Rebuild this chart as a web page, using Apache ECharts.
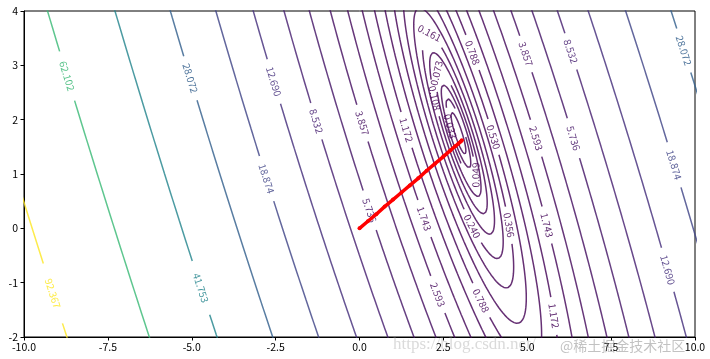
<!DOCTYPE html>
<html><head><meta charset="utf-8">
<script src="https://cdn.jsdelivr.net/npm/echarts@6/dist/echarts.min.js"></script>
<style>html,body{margin:0;padding:0;background:#fff}#c{width:710px;height:359px}</style>
</head><body><div id="c"></div>
<script>
// ---- data ----
const xTicks = [-10, -7.5, -5, -2.5, 0, 2.5, 5, 7.5, 10];
const yTicks = [-2, -1, 0, 1, 2, 3, 4];
const levels = [0.022122, 0.032903, 0.048939, 0.072790, 0.10826, 0.16103, 0.239503, 0.35622, 0.52983, 0.78805,
  1.17210, 1.74333, 2.59294, 3.85662, 5.73615, 8.53168, 12.6896, 18.8739, 28.0722, 41.7532, 62.1017, 92.3671];
// quadratic surface: f = A*u^2 + B*u*v + C*v^2 + F0, u=x-X0, v=y-Y0
const surfA = 0.5, surfB = 0.5, surfC = 0.167, surfX0 = 2.95, surfY0 = 1.75, surfF0 = 0.016;
// contour label spots: [level, approx x, approx y]
const labelLevel = [92.3671, 62.1017, 41.7532, 28.0722, 28.0722, 18.8739, 18.8739, 12.6896, 12.6896, 8.53168, 8.53168,
  5.73615, 5.73615, 3.85662, 3.85662, 2.59294, 2.59294, 1.74333, 1.74333, 1.17210, 1.17210, 0.78805, 0.78805,
  0.52983, 0.35622, 0.239503, 0.16103, 0.10826, 0.072790, 0.048939, 0.032903];
const labelX = [-9.18, -8.68, -4.75, -5.0, 9.65, -2.73, 9.45, -2.47, 9.16, -1.23, 6.37,
  0.31, 6.37, 0.11, 4.98, 2.25, 5.28, 1.90, 5.63, 1.41, 5.83, 3.54, 3.39,
  4.04, 4.49, 3.34, 2.10, 2.25, 2.25, 3.49, 2.85];
const labelY = [-1.14, 2.74, -1.08, 2.75, 3.29, 0.89, 1.14, 2.74, -0.80, 1.97, 3.26,
  0.35, 1.66, 1.94, 3.23, -1.23, 1.66, 0.18, 0.06, 1.81, -1.6, -1.35, 3.23,
  1.69, 0.06, 0.03, 3.61, 2.40, 2.86, 0.98, 1.90];
// descent path (red)
const pathX = [0.00, 0.25, 0.50, 0.75, 1.00, 1.25, 1.50, 1.75, 2.00, 2.25, 2.50, 2.70, 2.85, 2.95, 3.02, 3.05];
const pathY = [0.00, 0.13, 0.26, 0.40, 0.53, 0.66, 0.79, 0.92, 1.06, 1.19, 1.32, 1.43, 1.51, 1.56, 1.60, 1.62];

// ---- layout ----
const W = 710, H = 359;
const G = {left: 24, right: 15, top: 11, bottom: 22};
const gx0 = G.left, gx1 = W - G.right, gy0 = G.top, gy1 = H - G.bottom;
const xMin = -10, xMax = 10, yMin = -2, yMax = 4;
const toPx = (x, y) => [gx0 + (x - xMin) / (xMax - xMin) * (gx1 - gx0), gy1 - (y - yMin) / (yMax - yMin) * (gy1 - gy0)];

const VIR = ['#440154','#482475','#414487','#355f8d','#2a788e','#21918c','#22a884','#44bf70','#7ad151','#bddf26','#fde725'];
function hex(c){return [parseInt(c.slice(1,3),16),parseInt(c.slice(3,5),16),parseInt(c.slice(5,7),16)];}
function viridis(t){
  t = Math.max(0, Math.min(1, t));
  const p = t * 10, i = Math.min(9, Math.floor(p)), f = p - i;
  const a = hex(VIR[i]), b = hex(VIR[i+1]);
  return 'rgb(' + a.map((v,k)=>Math.round(v + (b[k]-v)*f)).join(',') + ')';
}
const vmin = levels[0], vmax = levels[levels.length-1];

// eigen decomposition of quadratic form
const mh = surfB / 2;
const tr = surfA + surfC, det = surfA * surfC - mh * mh;
const disc = Math.sqrt(tr*tr/4 - det);
const l1 = tr/2 - disc, l2 = tr/2 + disc;
function evec(l){ let vx = mh, vy = l - surfA; const n = Math.hypot(vx, vy); return [vx/n, vy/n]; }
const e1 = evec(l1), e2 = evec(l2);

const series = [];
const labelData = [];
const N = 1600;
levels.forEach(lev => {
  const Lp = lev - surfF0;
  if (Lp <= 0) return;
  const r1 = Math.sqrt(Lp / l1), r2 = Math.sqrt(Lp / l2);
  const pts = [], pxs = [];
  for (let i = 0; i < N; i++) {
    const t = i / N * Math.PI * 2;
    const c = Math.cos(t) * r1, s = Math.sin(t) * r2;
    const x = surfX0 + c * e1[0] + s * e2[0];
    const y = surfY0 + c * e1[1] + s * e2[1];
    pts.push([x, y]); pxs.push(toPx(x, y));
  }
  const keep = new Array(N).fill(true);
  const color = viridis((lev - vmin) / (vmax - vmin));
  const txt = lev.toFixed(3);
  labelLevel.forEach((ll, k) => {
    if (Math.abs(ll - lev) > 1e-6) return;
    const q = toPx(labelX[k], labelY[k]);
    let best = 0, bd = Infinity;
    for (let i = 0; i < N; i++) {
      const d = Math.hypot(pxs[i][0]-q[0], pxs[i][1]-q[1]);
      if (d < bd) { bd = d; best = i; }
    }
    const pa = pxs[(best - 4 + N) % N], pb = pxs[(best + 4) % N];
    let ang = Math.atan2(-(pb[1]-pa[1]), pb[0]-pa[0]) * 180 / Math.PI;
    if (ang > 90) ang -= 180; if (ang < -90) ang += 180;
    const half = txt.length * 5.8 / 2 + 4;
    const c0 = pxs[best];
    for (let i = 0; i < N; i++) {
      if (Math.hypot(pxs[i][0]-c0[0], pxs[i][1]-c0[1]) < half) keep[i] = false;
    }
    labelData.push({name: txt, value: pts[best], label: {rotate: ang, color: color}});
  });
  // split into runs
  let start = keep.indexOf(false);
  const segs = [];
  if (start < 0) { segs.push(pts.concat([pts[0]])); }
  else {
    let cur = [];
    for (let j = 1; j <= N; j++) {
      const i = (start + j) % N;
      if (keep[i]) cur.push(pts[i]);
      else { if (cur.length > 1) segs.push(cur); cur = []; }
    }
    if (cur.length > 1) segs.push(cur);
  }
  segs.forEach(sg => series.push({
    type: 'line', data: sg, showSymbol: false, symbol: 'none', silent: true, clip: true,
    lineStyle: {color: color, width: 1.5, opacity: 0.82}, z: 2, animation: false
  }));
});

series.push({
  type: 'scatter', data: labelData, symbolSize: 0, silent: true, z: 5, animation: false,
  label: {show: true, position: 'inside', formatter: '{b}', fontSize: 10, opacity: 0.85,
    fontFamily: 'Noto Sans CJK SC, DejaVu Sans, sans-serif'}
});
series.push({
  type: 'line', data: pathX.map((x, i) => [x, pathY[i]]), z: 10, animation: false, silent: true,
  lineStyle: {color: '#ff0000', width: 3.5}, symbol: 'circle', symbolSize: 4, showSymbol: true,
  itemStyle: {color: '#ff0000'}
});

const chart = echarts.init(document.getElementById('c'), null, {renderer: 'canvas'});
const axisCommon = {
  axisLine: {show: true, onZero: false, lineStyle: {color: '#000', width: 1}},
  axisTick: {show: true, length: 3.5, lineStyle: {color: '#000'}},
  splitLine: {show: false},
  axisLabel: {color: '#000', fontSize: 10.5, fontFamily: 'Noto Sans CJK SC, DejaVu Sans, sans-serif'}
};
chart.setOption({
  animation: false,
  backgroundColor: '#fff',
  grid: {left: G.left, right: G.right, top: G.top, bottom: G.bottom, show: true, borderColor: '#000', borderWidth: 1, containLabel: false},
  xAxis: Object.assign({}, axisCommon, {type: 'value', min: xTicks[0], max: xTicks[xTicks.length-1], interval: xTicks[1]-xTicks[0],
    axisLabel: Object.assign({}, axisCommon.axisLabel, {margin: 5, formatter: v => v.toFixed(1)})}),
  yAxis: Object.assign({}, axisCommon, {type: 'value', min: yTicks[0], max: yTicks[yTicks.length-1], interval: yTicks[1]-yTicks[0],
    axisLabel: Object.assign({}, axisCommon.axisLabel, {margin: 6, formatter: v => String(v)})}),
  graphic: [
    {type: 'text', left: 393, top: 336, silent: true, z: 100,
      style: {text: 'https://blog.csdn.net/', fill: 'rgba(150,150,150,0.35)', font: '17px serif'}},
    {type: 'text', left: 560, top: 339, silent: true, z: 100,
      style: {text: '@稀土掘金技术社区', fill: 'rgba(120,120,120,0.45)', font: '14px "Noto Sans CJK SC"'}}
  ],
  series: series
});
</script></body></html>
